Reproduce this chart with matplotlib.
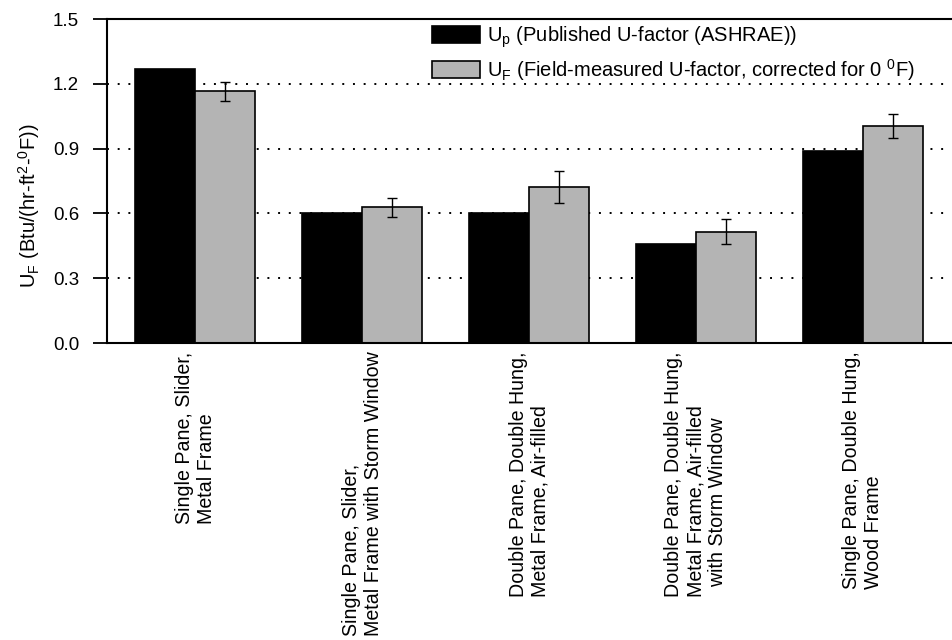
import matplotlib
matplotlib.use("Agg")
import matplotlib.pyplot as plt
from matplotlib.patches import Patch
import numpy as np

plt.rcParams['font.family'] = ['Liberation Sans', 'DejaVu Sans']

categories = [
    "Single Pane, Slider,\nMetal Frame",
    "Single Pane, Slider,\nMetal Frame with Storm Window",
    "Double Pane, Double Hung,\nMetal Frame, Air-filled",
    "Double Pane, Double Hung,\nMetal Frame, Air-filled\n  with Storm Window",
    "Single Pane, Double Hung,\nWood Frame",
]
published = [1.27, 0.60, 0.60, 0.457, 0.89]
measured = [1.165, 0.628, 0.722, 0.516, 1.005]
measured_err = [0.043, 0.044, 0.073, 0.058, 0.055]
yticks = [0.0, 0.3, 0.6, 0.9, 1.2, 1.5]
label_p = r"U$_\mathregular{p}$ (Published U-factor (ASHRAE))"
label_f = r"U$_\mathregular{F}$ (Field-measured U-factor, corrected for 0 $^\mathregular{0}$F)"
ylabel = r"U$_\mathregular{F}$ (Btu/(hr-ft$^\mathregular{2}$-$^\mathregular{0}$F))"

gray = "#b4b4b4"
fig = plt.figure(figsize=(9.52, 6.4), dpi=100)
ax = fig.add_axes([107 / 952, 1 - 343 / 640, 844 / 952, 324 / 640])

x = np.arange(len(categories))
w = 0.357
ax.bar(x - w / 2, published, width=w, color="black", edgecolor="black", linewidth=1.2, zorder=2)
ax.bar(x + w / 2, measured, width=w, color=gray, edgecolor="black", linewidth=1.2, zorder=2)
ax.errorbar(x + w / 2, measured, yerr=measured_err, fmt="none", ecolor="black",
            elinewidth=1.0, capsize=3.5, capthick=1.0, zorder=3)

ax.set_ylim(0, 1.5)
ax.set_xlim(-0.527, len(categories) - 1 + 0.527)
ax.set_yticks(yticks)
ax.set_yticklabels([f"{v:.1f}" for v in yticks], fontsize=13.5)
ax.tick_params(axis="y", direction="out", length=10, width=1.3, pad=10)

ax.set_xticks(x)
ax.set_xticklabels(categories, rotation=90, va="top", ha="center",
                   multialignment="left", linespacing=1.2, fontsize=14.1)
ax.tick_params(axis="x", length=0, pad=6)

ax.set_axisbelow(True)
ax.yaxis.grid(True, color="black", linestyle=(0, (1, 4.5)), linewidth=1.4)

for s in ["left", "bottom", "top"]:
    ax.spines[s].set_linewidth(1.5)
ax.spines["right"].set_visible(False)

ax.set_ylabel(ylabel, fontsize=14.5)
ax.yaxis.set_label_coords(-0.077, 0.423)

handles = [Patch(facecolor="black", edgecolor="black", linewidth=1.2),
           Patch(facecolor=gray, edgecolor="black", linewidth=1.2)]
ax.legend(handles, [label_p, label_f], loc="upper left",
          bbox_to_anchor=((430 - 107) / 844, 0.99), frameon=False, fontsize=14.5,
          handlelength=2.4, handleheight=0.95, handletextpad=0.35,
          labelspacing=0.35, borderpad=0.1, borderaxespad=0)

fig.savefig("out.png", dpi=100)
